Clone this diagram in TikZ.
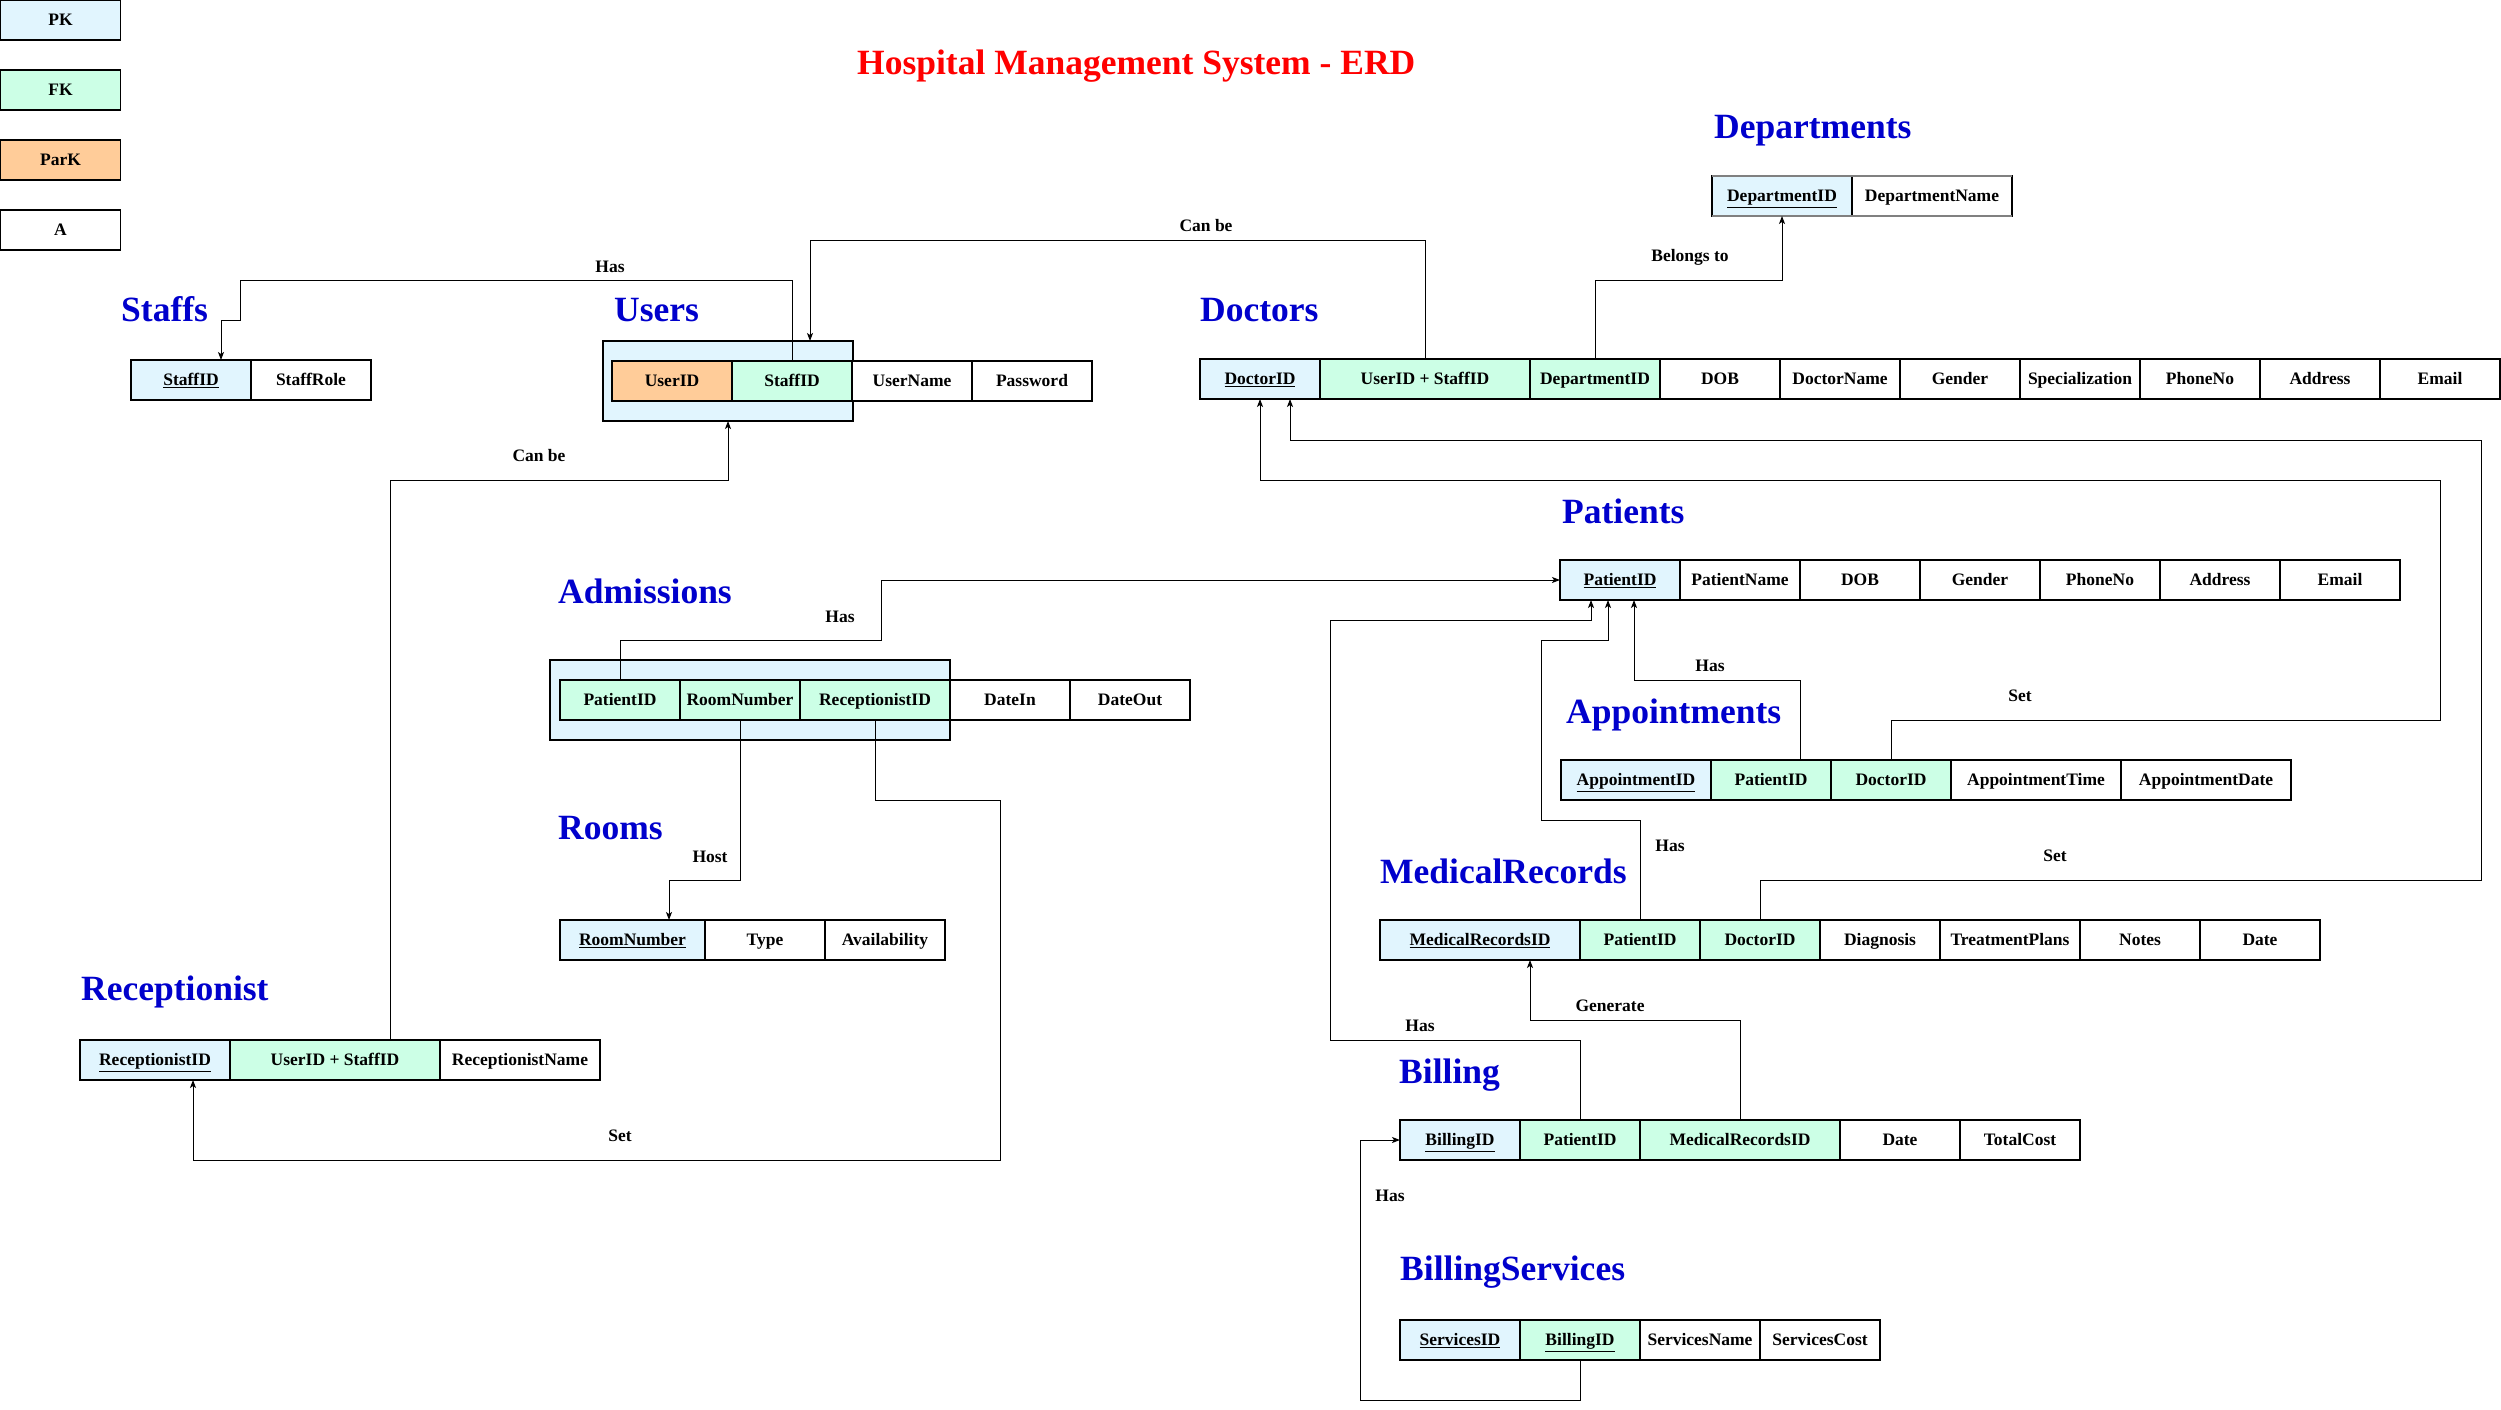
\documentclass[tikz,border=0pt]{standalone}
\usepackage{fontspec}
\setmainfont{Liberation Serif}
\usetikzlibrary{positioning,arrows.meta}
\definecolor{pkblue}{HTML}{E1F5FE}
\definecolor{fkgreen}{HTML}{CCFFE6}
\definecolor{parkorange}{HTML}{FFCC99}
\definecolor{titlered}{HTML}{FF0000}
\definecolor{entityblue}{HTML}{0000CC}

\begin{document}
\begin{tikzpicture}[
      x=1pt, y=-1pt,
      cell/.style={
        draw, line width=1.1pt,
        minimum height=40pt, inner sep=0pt, outer sep=0pt,
        text height=14pt, text depth=2.2pt,
        font=\fontsize{17.5}{20}\selectfont\bfseries
      },
      attr/.style={cell, fill=white, minimum width=#1},
      attr/.default=120pt,
      pk/.style={cell, fill=pkblue, minimum width=#1},
      pk/.default=120pt,
      fk/.style={cell, fill=fkgreen, minimum width=#1},
      fk/.default=120pt,
      park/.style={cell, fill=parkorange, minimum width=#1},
      park/.default=120pt,
      group/.style={
        draw, line width=1.1pt, fill=pkblue,
        minimum width=#1, minimum height=80pt, inner sep=0pt, outer sep=0pt
      },
      entity/.style={
        anchor=base west, inner sep=0pt, text=entityblue,
        font=\fontsize{35.5}{40}\selectfont\bfseries
      },
      relname/.style={anchor=base, inner sep=0pt, font=\fontsize{17.5}{20}\selectfont\bfseries},
      link/.style={line width=1pt, -{Stealth[length=8pt,width=6pt,inset=2pt]}}
      ]
      \useasboundingbox (0,0) rectangle (2501,1410);

      % legend
      \foreach \t/\s [count=\i from 0] in {PK/pk, FK/fk, ParK/park, A/attr} {
        \node[\s] (lg-\t) at (60.5, 20+70*\i) {\t};
      }
      \node[anchor=base west, inner sep=0pt, text=titlered,
        font=\fontsize{35.5}{40}\selectfont\bfseries] (title) at (857,75)
        {Hospital Management System - ERD};

      % Staffs
      \node[entity] (sf-t) at (121,321) {Staffs};
      \node[pk] (sf-id) at (191,380) {\underline{StaffID}};
      \node[attr] (sf-role) at (311,380) {StaffRole};

      % Users
      \node[entity] (us-t) at (614,321) {Users};
      \node[group=250pt] (us-box) at (728,381) {};
      \node[park] (us-uid) at (672,381) {UserID};
      \node[fk] (us-sid) at (792,381) {StaffID};
      \node[attr] (us-name) at (912,381) {UserName};
      \node[attr] (us-pw) at (1032,381) {Password};

      % Doctors
      \node[entity] (do-t) at (1200,321) {Doctors};
      \node[pk] (do-id) at (1260,379) {\underline{DoctorID}};
      \node[fk=210pt] (do-us) at (1425,379) {UserID + StaffID};
      \node[fk=130pt] (do-dep) at (1595,379) {DepartmentID};
      \foreach \t [count=\i] in {DOB, DoctorName, Gender, Specialization, PhoneNo, Address, Email} {
        \node[attr] (do-a\i) at (1600+120*\i, 379) {\t};
      }

      % Departments
      \node[entity] (dp-t) at (1714,139) {Departments};
      \node[pk=140pt] (dp-id) at (1782,196) {\underline{DepartmentID}};
      \node[attr=160pt] (dp-name) at (1932,196) {DepartmentName};
      \draw[gray, line width=2pt] (dp-id.north west) -- (dp-name.north east);
      \draw[gray, line width=2pt] (dp-id.south west) -- (dp-name.south east);

      % Patients
      \node[entity] (pa-t) at (1562,523) {Patients};
      \node[pk] (pa-id) at (1620,580) {\underline{PatientID}};
      \foreach \t [count=\i] in {PatientName, DOB, Gender, PhoneNo, Address, Email} {
        \node[attr] (pa-a\i) at (1620+120*\i, 580) {\t};
      }

      % Admissions
      \node[entity] (ad-t) at (558,603) {Admissions};
      \node[group=400pt] (ad-box) at (750,700) {};
      \node[fk] (ad-pid) at (620,700) {PatientID};
      \node[fk] (ad-rn) at (740,700) {RoomNumber};
      \node[fk=150pt] (ad-rc) at (875,700) {ReceptionistID};
      \node[attr] (ad-in) at (1010,700) {DateIn};
      \node[attr] (ad-out) at (1130,700) {DateOut};

      % Rooms
      \node[entity] (rm-t) at (558,839) {Rooms};
      \node[pk=145pt] (rm-id) at (632.5,940) {\underline{RoomNumber}};
      \node[attr] (rm-type) at (765,940) {Type};
      \node[attr] (rm-av) at (885,940) {Availability};

      % Receptionist
      \node[entity] (re-t) at (81,1000) {Receptionist};
      \node[pk=150pt] (re-id) at (155,1060) {\underline{ReceptionistID}};
      \node[fk=210pt] (re-us) at (335,1060) {UserID + StaffID};
      \node[attr=160pt] (re-name) at (520,1060) {ReceptionistName};

      % Appointments
      \node[entity] (ap-t) at (1566,723) {Appointments};
      \node[pk=150pt] (ap-id) at (1636,780) {\underline{AppointmentID}};
      \node[fk] (ap-pid) at (1771,780) {PatientID};
      \node[fk] (ap-did) at (1891,780) {DoctorID};
      \node[attr=170pt] (ap-time) at (2036,780) {AppointmentTime};
      \node[attr=170pt] (ap-date) at (2206,780) {AppointmentDate};

      % MedicalRecords
      \node[entity] (mr-t) at (1380,883) {MedicalRecords};
      \node[pk=200pt] (mr-id) at (1480,940) {\underline{MedicalRecordsID}};
      \node[fk] (mr-pid) at (1640,940) {PatientID};
      \node[fk] (mr-did) at (1760,940) {DoctorID};
      \node[attr] (mr-dia) at (1880,940) {Diagnosis};
      \node[attr=140pt] (mr-plan) at (2010,940) {TreatmentPlans};
      \node[attr] (mr-notes) at (2140,940) {Notes};
      \node[attr] (mr-date) at (2260,940) {Date};

      % Billing
      \node[entity] (bi-t) at (1399,1083) {Billing};
      \node[pk] (bi-id) at (1460,1140) {\underline{BillingID}};
      \node[fk] (bi-pid) at (1580,1140) {PatientID};
      \node[fk=200pt] (bi-mr) at (1740,1140) {MedicalRecordsID};
      \node[attr] (bi-date) at (1900,1140) {Date};
      \node[attr] (bi-cost) at (2020,1140) {TotalCost};

      % BillingServices
      \node[entity] (bs-t) at (1400,1280) {BillingServices};
      \node[pk] (bs-id) at (1460,1340) {\underline{ServicesID}};
      \node[fk] (bs-bid) at (1580,1340) {\underline{BillingID}};
      \node[attr] (bs-name) at (1700,1340) {ServicesName};
      \node[attr] (bs-cost) at (1820,1340) {ServicesCost};

      % relationships
      \draw[link] (us-sid.north) |- (240,280) |- (221,320) -- ([xshift=30pt]sf-id.north);
      \node[relname] (r-has1) at (610,272) {Has};
      \draw[link] (do-us.north) |- (810,240) -- ([xshift=82pt]us-box.north);
      \node[relname] (r-can1) at (1206,231) {Can be};
      \draw[link] (do-dep.north) |- (1782,280) -- (dp-id.south);
      \node[relname] (r-bel) at (1690,261) {Belongs to};
      \draw[link] ([xshift=55pt]re-us.north) |- (728,480) -- (us-box.south);
      \node[relname] (r-can2) at (539,461) {Can be};
      \draw[link] (ad-pid.north) |- (881,640) |- (pa-id.west);
      \node[relname] (r-has2) at (840,622) {Has};
      \draw[link] (ad-rn.south) |- (669,880) -- ([xshift=36.5pt]rm-id.north);
      \node[relname] (r-host) at (710,862) {Host};
      \draw[link] (ad-rc.south) |- (1000,800) |- (193,1160) -- ([xshift=38pt]re-id.south);
      \node[relname] (r-set1) at (620,1141) {Set};
      \draw[link] ([xshift=29pt]ap-pid.north) |- (1634,680) -- ([xshift=14pt]pa-id.south);
      \node[relname] (r-has3) at (1710,671) {Has};
      \draw[link] (ap-did.north) |- (2440,720) |- (1260,480) -- (do-id.south);
      \node[relname] (r-set2) at (2020,701) {Set};
      \draw[link] (mr-pid.north) |- (1541,820) |- (1608,640) -- ([xshift=-12pt]pa-id.south);
      \node[relname] (r-has4) at (1670,851) {Has};
      \draw[link] (mr-did.north) |- (2481,880) |- (1290,440) -- ([xshift=30pt]do-id.south);
      \node[relname] (r-set3) at (2055,861) {Set};
      \draw[link] (bi-pid.north) |- (1330,1040) |- (1591,620) -- ([xshift=-29pt]pa-id.south);
      \node[relname] (r-has5) at (1420,1031) {Has};
      \draw[link] (bi-mr.north) |- (1530,1020) -- ([xshift=50pt]mr-id.south);
      \node[relname] (r-gen) at (1610,1011) {Generate};
      \draw[link] (bs-bid.south) |- (1360,1400) |- (bi-id.west);
      \node[relname] (r-has6) at (1390,1201) {Has};
    \end{tikzpicture}
\end{document}
